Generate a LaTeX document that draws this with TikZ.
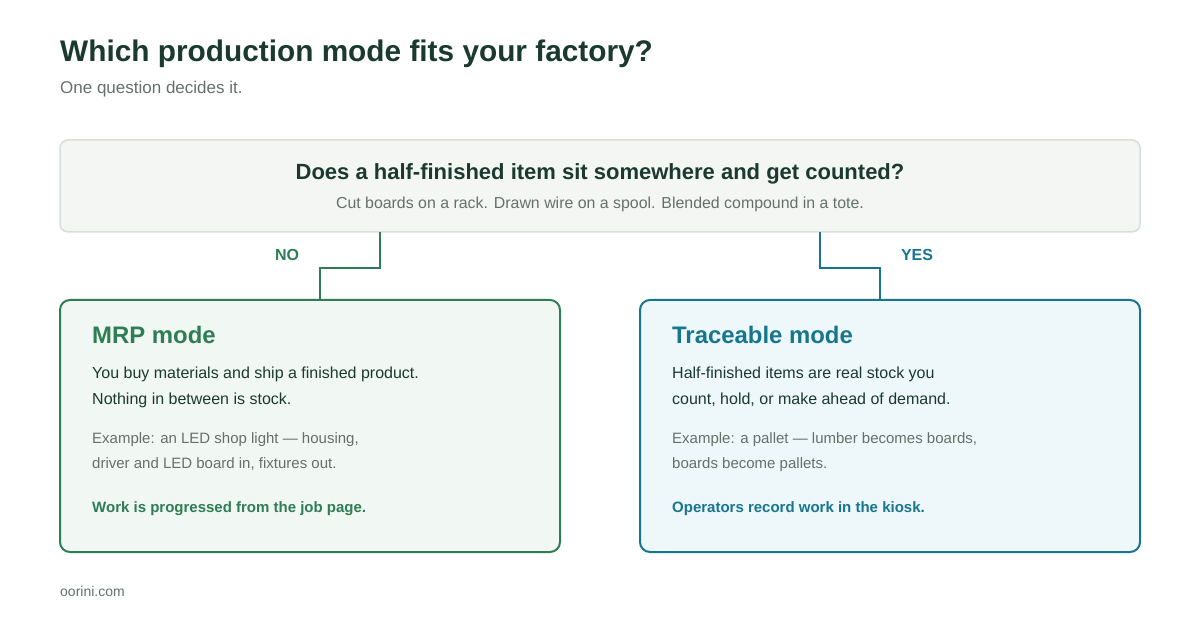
\documentclass[tikz,border=0pt]{standalone}
\usepackage{fontspec}
\setmainfont{Liberation Sans}
\definecolor{ink}{HTML}{1B3A2F}
\definecolor{grayt}{HTML}{66706B}
\definecolor{mrp}{HTML}{2E7D55}
\definecolor{trc}{HTML}{17768F}
\definecolor{qfill}{HTML}{F4F6F4}
\definecolor{qline}{HTML}{D8DEDB}
\definecolor{mfill}{HTML}{F1F7F3}
\definecolor{tfill}{HTML}{EEF7FA}
\begin{document}
\begin{tikzpicture}[x=1pt,y=-1pt,
  txt/.style={anchor=base west,inner sep=0pt},
  f/.style={font=\fontsize{#1}{#1}\selectfont}]
\useasboundingbox[fill=white] (0,0) rectangle (1200,620);
\node[txt,f=29.8,text=ink] (title) at (60,62) {\bfseries Which production mode fits your factory?};
\node[txt,f=17,text=grayt] (sub) at (60,94) {One question decides it.};
\draw[qline,fill=qfill,line width=1.5,rounded corners=8] (60,140) rectangle (1140,232);
\coordinate (qa) at (380,232); \coordinate (qb) at (820,232);
\node[anchor=base,inner sep=0pt,f=22,text=ink] (q) at (600,180) {\bfseries Does a half-finished item sit somewhere and get counted?};
\node[anchor=base,inner sep=0pt,f=15.9,text=grayt] (qs) at (600,209) {Cut boards on a rack. Drawn wire on a spool. Blended compound in a tote.};
\draw[mrp,line width=2,fill=mfill,rounded corners=10] (60,300) rectangle (560,552);
\draw[trc,line width=2,fill=tfill,rounded corners=10] (640,300) rectangle (1140,552);
\coordinate (ma) at (320,300); \coordinate (ta) at (880,300);
\draw[mrp,line width=2] (qa) -- (380,268) -- (320,268) -- (ma);
\draw[trc,line width=2] (qb) -- (820,268) -- (880,268) -- (ta);
\node[anchor=base,inner sep=0pt,f=16,text=mrp] (no) at (287,261) {\bfseries NO};
\node[anchor=base,inner sep=0pt,f=16,text=trc] (yes) at (917,261) {\bfseries YES};
% MRP
\node[txt,f=23.9,text=mrp] (mt) at (92,344) {\bfseries MRP mode};
\node[txt,f=16,text=ink] (m1) at (92,378) {You buy materials and ship a finished product.};
\node[txt,f=16,text=ink] (m2) at (92,404) {Nothing in between is stock.};
\node[txt,f=15,text=grayt] (m3) at (92,443) {Example: an LED shop light — housing,};
\node[txt,f=15,text=grayt] (m4) at (92,468) {driver and LED board in, fixtures out.};
\node[txt,f=15,text=mrp] (m5) at (92,512) {\bfseries Work is progressed from the job page.};
% Traceable
\node[txt,f=23.9,text=trc] (tt) at (672,344) {\bfseries Traceable mode};
\node[txt,f=16,text=ink] (t1) at (672,378) {Half-finished items are real stock you};
\node[txt,f=16,text=ink] (t2) at (672,404) {count, hold, or make ahead of demand.};
\node[txt,f=15,text=grayt] (t3) at (672,443) {Example: a pallet — lumber becomes boards,};
\node[txt,f=15,text=grayt] (t4) at (672,468) {boards become pallets.};
\node[txt,f=15,text=trc] (t5) at (672,512) {\bfseries Operators record work in the kiosk.};
\node[txt,f=14,text=grayt] (foot) at (60,596) {oorini.com};
\end{tikzpicture}
\end{document}
